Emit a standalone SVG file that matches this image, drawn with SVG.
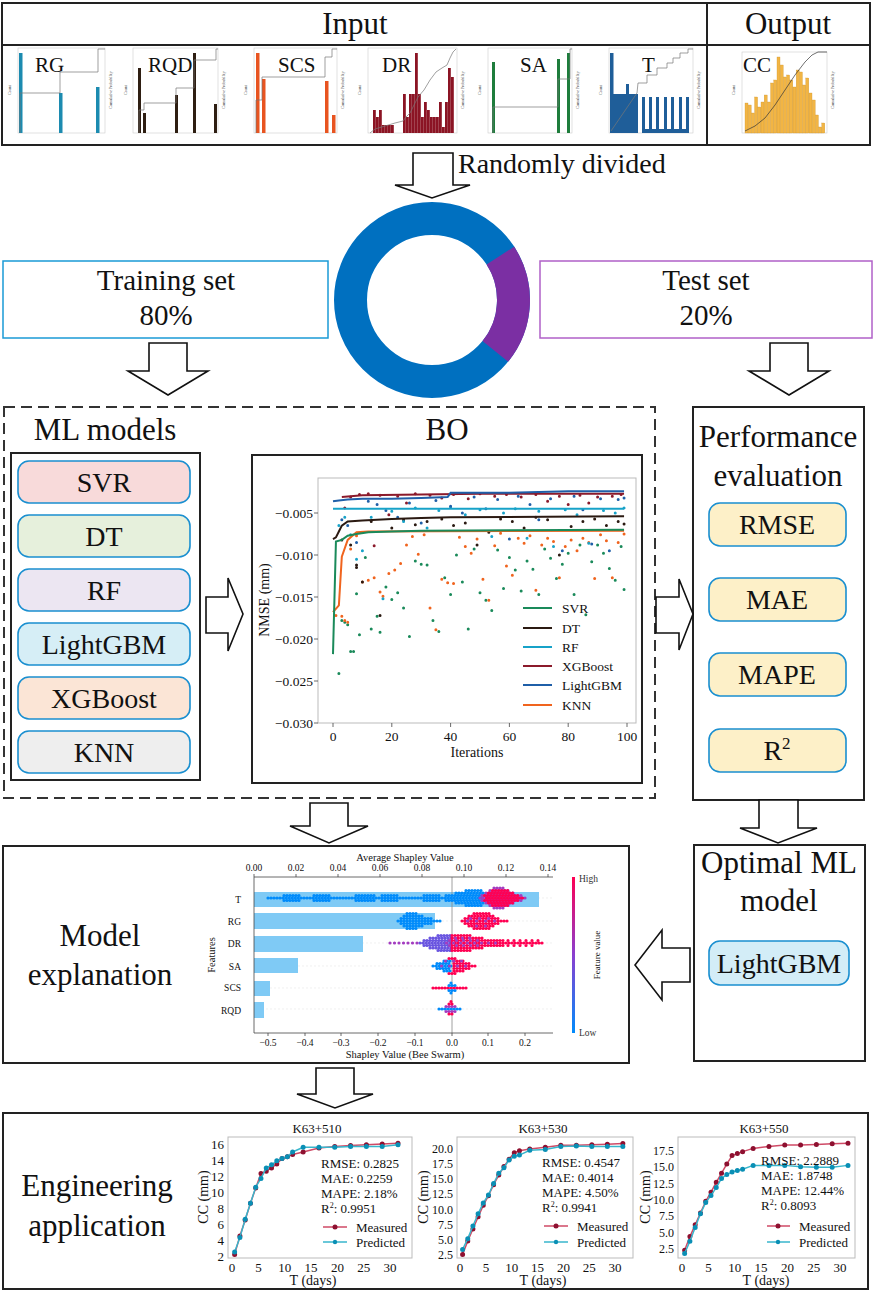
<svg xmlns="http://www.w3.org/2000/svg" width="886" height="1291" viewBox="0 0 886 1291" font-family="'Liberation Serif', serif">
<defs>
<style>
text{font-family:'Liberation Serif',serif;fill:#111}
.big{font-size:31px}
.mod{font-size:28px}
.lab{font-size:21px}
.box{fill:none;stroke:#222;stroke-width:2}
.arr{fill:#fff;stroke:#111;stroke-width:1.6;stroke-linejoin:miter}
.pill{stroke:#1a8fd0;stroke-width:1.6}
.frame{fill:none;stroke:#bbb;stroke-width:1}
.tk{font-size:13.5px}
.ns{vector-effect:non-scaling-stroke;fill:none}
.dots{vector-effect:non-scaling-stroke;fill:none;stroke-linecap:round;stroke-width:3}
.mk{vector-effect:non-scaling-stroke;fill:none;stroke-linecap:round;stroke-width:5}
.mini{fill:none;stroke:#ccc;stroke-width:0.6}
.cum{fill:none;stroke:#777;stroke-width:0.7}
.tiny{font-size:4px;fill:#333}
.shap{font-size:9.5px;fill:#333}
.et{font-size:13px}
.et2{font-size:12px}
.ax{stroke:#444;stroke-width:0.8}
.sw{fill:none;stroke-width:3.2;stroke-linecap:round;stroke-dasharray:0 3}
.b{stroke:#008bfb}.r{stroke:#ff0052}.p{stroke:#a33cc0}.v{stroke:#6a55e0}
</style>
<linearGradient id="fv" x1="0" y1="0" x2="0" y2="1">
<stop offset="0" stop-color="#ff0052"/><stop offset="0.5" stop-color="#8a3fd0"/><stop offset="1" stop-color="#008bfb"/>
</linearGradient>
</defs>
<rect width="886" height="1291" fill="#fff"/>

<g id="input-output">
<rect x="2" y="3" width="868" height="142" class="box"/>
<line x1="2" y1="45" x2="870" y2="45" stroke="#222" stroke-width="2"/>
<line x1="707" y1="3" x2="707" y2="145" stroke="#222" stroke-width="2"/>
<text x="355" y="34" class="big" text-anchor="middle">Input</text>
<text x="788" y="34" class="big" text-anchor="middle">Output</text>

<g id="hist-RG">
<rect x="18" y="48" width="87" height="85" class="mini"/>
<rect x="19" y="53" width="3.5" height="80" fill="#1c8bb0"/>
<rect x="59" y="93" width="3.5" height="40" fill="#1c8bb0"/>
<rect x="96" y="87" width="3.5" height="46" fill="#1c8bb0"/>
<polyline class="cum" points="20,133 20,93 60,93 60,72 98,72 98,49 105,49"/>
<text x="35" y="72" class="lab">RG</text>
<text class="tiny" transform="translate(11,90) rotate(-90)" text-anchor="middle">Count</text>
<text class="tiny" transform="translate(112,90) rotate(-90)" text-anchor="middle">Cumulative Probability</text>
</g>
<g id="hist-RQD">
<rect x="133" y="48" width="85" height="85" class="mini"/>
<g fill="#2e1e12">
<rect x="138" y="68" width="3" height="65"/><rect x="143" y="113" width="3" height="20"/><rect x="175" y="95" width="3" height="38"/><rect x="193" y="53" width="3" height="80"/><rect x="214" y="104" width="3" height="29"/>
</g>
<polyline class="cum" points="139,133 139,110 144,110 144,103 176,103 176,88 194,88 194,60 216,60 216,49 218,49"/>
<text x="148" y="72" class="lab">RQD</text>
<text class="tiny" transform="translate(127,90) rotate(-90)" text-anchor="middle">Count</text>
<text class="tiny" transform="translate(225,90) rotate(-90)" text-anchor="middle">Cumulative Probability</text>
</g>
<g id="hist-SCS">
<rect x="254" y="48" width="83" height="85" class="mini"/>
<g fill="#e85420">
<rect x="256" y="53" width="3.5" height="80"/><rect x="262" y="79" width="3.5" height="54"/><rect x="325" y="81" width="3.5" height="52"/><rect x="332" y="115" width="3.5" height="18"/>
</g>
<polyline class="cum" points="256,133 256,100 262,100 262,77 325,77 325,57 332,57 332,49 337,49"/>
<text x="278" y="72" class="lab">SCS</text>
<text class="tiny" transform="translate(247,90) rotate(-90)" text-anchor="middle">Count</text>
<text class="tiny" transform="translate(344,90) rotate(-90)" text-anchor="middle">Cumulative Probability</text>
</g>
<g id="hist-DR">
<rect x="368" y="48" width="89" height="85" class="mini"/>
<g fill="#8b1424">
<rect x="373" y="110" width="2.8" height="23"/><rect x="376" y="117" width="2.8" height="16"/><rect x="379" y="110" width="2.8" height="23"/><rect x="382" y="125" width="2.8" height="8"/><rect x="385" y="125" width="2.8" height="8"/><rect x="388" y="125" width="2.8" height="8"/><rect x="391" y="125" width="2.8" height="8"/><rect x="403" y="94" width="2.8" height="39"/><rect x="406" y="117" width="2.8" height="16"/><rect x="409" y="94" width="2.8" height="39"/><rect x="412" y="94" width="2.8" height="39"/><rect x="415" y="53" width="2.8" height="80"/><rect x="418" y="94" width="2.8" height="39"/><rect x="421" y="117" width="2.8" height="16"/><rect x="424" y="102" width="2.8" height="31"/><rect x="427" y="110" width="2.8" height="23"/><rect x="430" y="117" width="2.8" height="16"/><rect x="433" y="117" width="2.8" height="16"/><rect x="436" y="117" width="2.8" height="16"/><rect x="439" y="102" width="2.8" height="31"/><rect x="442" y="127" width="2.8" height="6"/><rect x="445" y="102" width="2.8" height="31"/><rect x="448" y="68" width="2.8" height="65"/><rect x="451" y="77" width="2.8" height="56"/>
</g>
<polyline class="cum" points="370,133 375,129 385,126 395,123 403,121 406,117 410,113 414,105 418,97 424,90 430,80 436,72 442,68 447,65 450,58 453,52 456,49"/>
<text x="382" y="72" class="lab">DR</text>
<text class="tiny" transform="translate(361,90) rotate(-90)" text-anchor="middle">Count</text>
<text class="tiny" transform="translate(464,90) rotate(-90)" text-anchor="middle">Cumulative Probability</text>
</g>
<g id="hist-SA">
<rect x="488" y="48" width="84" height="85" class="mini"/>
<g fill="#1e7d3c">
<rect x="492" y="62" width="3" height="71"/><rect x="557" y="59" width="3" height="74"/><rect x="567" y="53" width="3" height="80"/>
</g>
<polyline class="cum" points="493,133 493,107 558,107 558,79 570,79 570,49 572,49"/>
<text x="520" y="72" class="lab">SA</text>
<text class="tiny" transform="translate(481,90) rotate(-90)" text-anchor="middle">Count</text>
<text class="tiny" transform="translate(579,90) rotate(-90)" text-anchor="middle">Cumulative Probability</text>
</g>
<g id="hist-T">
<rect x="609" y="48" width="84" height="85" class="mini"/>
<g fill="#1f5e99">
<rect x="610" y="53" width="3.5" height="80"/><rect x="613" y="94" width="25" height="39"/><rect x="626" y="84" width="3" height="10"/>
<rect x="642" y="97" width="3" height="36"/><rect x="649" y="97" width="3" height="36"/><rect x="656" y="97" width="3" height="36"/><rect x="664" y="97" width="3" height="36"/><rect x="671" y="97" width="3" height="36"/><rect x="679" y="97" width="3" height="36"/><rect x="686" y="97" width="3" height="36"/>
<rect x="642" y="129" width="47" height="4"/>
</g>
<polyline class="cum" points="611,131 637,93 638,83 647,83 647,75 657,75 657,68 667,68 667,63 673,63 673,58 680,58 680,53 688,53 688,49 693,49"/>
<text x="642" y="72" class="lab">T</text>
<text class="tiny" transform="translate(602,90) rotate(-90)" text-anchor="middle">Count</text>
<text class="tiny" transform="translate(700,90) rotate(-90)" text-anchor="middle">Cumulative Probability</text>
</g>
<g id="hist-CC">
<rect x="742" y="52" width="85" height="81" class="mini"/>
<g fill="#f2b544" stroke="#c8902a" stroke-width="0.3">
<rect x="745" y="103" width="3" height="30"/><rect x="748.2" y="105" width="3" height="28"/><rect x="751.4" y="113" width="3" height="20"/><rect x="754.6" y="97" width="3" height="36"/><rect x="757.8" y="107" width="3" height="26"/><rect x="761" y="102" width="3" height="31"/><rect x="764.2" y="95" width="3" height="38"/><rect x="767.4" y="102" width="3" height="31"/><rect x="770.6" y="83" width="3" height="50"/><rect x="773.8" y="80" width="3" height="53"/><rect x="777" y="57" width="3" height="76"/><rect x="780.2" y="65" width="3" height="68"/><rect x="783.4" y="77" width="3" height="56"/><rect x="786.6" y="75" width="3" height="58"/><rect x="789.8" y="80" width="3" height="53"/><rect x="793" y="87" width="3" height="46"/><rect x="796.2" y="70" width="3" height="63"/><rect x="799.4" y="72" width="3" height="61"/><rect x="802.6" y="85" width="3" height="48"/><rect x="805.8" y="78" width="3" height="55"/><rect x="809" y="93" width="3" height="40"/><rect x="812.2" y="100" width="3" height="33"/><rect x="815.4" y="115" width="3" height="18"/><rect x="818.6" y="127" width="3" height="6"/><rect x="821.8" y="123" width="3" height="10"/>
</g>
<polyline fill="none" stroke="#333" stroke-width="0.7" points="745,131 755,126 765,118 775,105 785,90 795,75 805,62 812,55 818,52 827,52"/>
<text x="743" y="72" class="lab">CC</text>
<text class="tiny" transform="translate(735,90) rotate(-90)" text-anchor="middle">Count</text>
<text class="tiny" transform="translate(834,90) rotate(-90)" text-anchor="middle">Cumulative Probability</text>
</g>
</g>

<g id="split">
<circle cx="432" cy="300" r="81.5" fill="none" stroke="#0070c0" stroke-width="33"/>
<path d="M500.35 255.62 A81.5 81.5 0 0 1 495.34 351.29" fill="none" stroke="#7b2fa3" stroke-width="33"/>
</g>
<g id="training-set">
<rect x="3" y="261" width="325" height="77" fill="#fff" stroke="#1a9ad6" stroke-width="1.5"/>
<text x="166" y="290" font-size="29" text-anchor="middle">Training set</text>
<text x="166" y="325" font-size="29" text-anchor="middle">80%</text>
</g>
<g id="test-set">
<rect x="540" y="261" width="332" height="77" fill="#fff" stroke="#b060c8" stroke-width="1.5"/>
<text x="706" y="290" font-size="29" text-anchor="middle">Test set</text>
<text x="706" y="325" font-size="29" text-anchor="middle">20%</text>
</g>

<rect id="training-frame" x="4" y="407" width="651" height="391" fill="none" stroke="#333" stroke-width="2" stroke-dasharray="11 6"/>

<g id="ml-models">
<text x="105" y="440" class="big" text-anchor="middle">ML models</text>
<rect x="11" y="453" width="189" height="327" class="box"/>
<g id="m-svr"><rect x="18" y="461" width="172" height="42" rx="11" fill="#f8dada" class="pill"/><text x="104" y="492" class="mod" text-anchor="middle">SVR</text></g>
<g id="m-dt"><rect x="18" y="515" width="172" height="42" rx="11" fill="#e6f0dc" class="pill"/><text x="104" y="546" class="mod" text-anchor="middle">DT</text></g>
<g id="m-rf"><rect x="18" y="569" width="172" height="42" rx="11" fill="#ece6f2" class="pill"/><text x="104" y="600" class="mod" text-anchor="middle">RF</text></g>
<g id="m-lgbm"><rect x="18" y="623" width="172" height="42" rx="11" fill="#d6eef6" class="pill"/><text x="104" y="654" class="mod" text-anchor="middle">LightGBM</text></g>
<g id="m-xgb"><rect x="18" y="677" width="172" height="42" rx="11" fill="#fbe5d6" class="pill"/><text x="104" y="708" class="mod" text-anchor="middle">XGBoost</text></g>
<g id="m-knn"><rect x="18" y="731" width="172" height="42" rx="11" fill="#eeeeee" class="pill"/><text x="104" y="762" class="mod" text-anchor="middle">KNN</text></g>
</g>

<g id="bo">
<text x="447" y="440" class="big" text-anchor="middle">BO</text>
<rect x="252" y="455" width="390" height="328" class="box"/>
<rect x="318" y="478" width="318" height="245" class="frame"/>
<g class="ax"><line x1="314" y1="513" x2="318" y2="513"/><line x1="314" y1="555" x2="318" y2="555"/><line x1="314" y1="597" x2="318" y2="597"/><line x1="314" y1="639" x2="318" y2="639"/><line x1="314" y1="681" x2="318" y2="681"/><line x1="314" y1="723" x2="318" y2="723"/>
<line x1="333" y1="723" x2="333" y2="727"/><line x1="391.8" y1="723" x2="391.8" y2="727"/><line x1="450.6" y1="723" x2="450.6" y2="727"/><line x1="509.4" y1="723" x2="509.4" y2="727"/><line x1="568.2" y1="723" x2="568.2" y2="727"/><line x1="627" y1="723" x2="627" y2="727"/></g>
<g class="tk" text-anchor="end">
<text x="313" y="518">−0.005</text><text x="313" y="560">−0.010</text><text x="313" y="602">−0.015</text><text x="313" y="644">−0.020</text><text x="313" y="686">−0.025</text><text x="313" y="728">−0.030</text>
</g>
<g class="tk" text-anchor="middle">
<text x="333" y="741">0</text><text x="391.8" y="741">20</text><text x="450.6" y="741">40</text><text x="509.4" y="741">60</text><text x="568.2" y="741">80</text><text x="627" y="741">100</text>
<text x="477" y="757" font-size="14">Iterations</text>
<text transform="translate(269,600) rotate(-90)" font-size="14">NMSE (mm)</text>
</g>
<g transform="matrix(2.94 0 0 0.84 333 471)">
<path class="dots" stroke="#1a8a5a" d="M2 241h0M3 178h0M4 180h0M5 183h0M6 215h0M7 215h0M8 146h0M9 195h0M11 103h0M13 188h0M15 173h0M16 192h0M18 138h0M20 153h0M22 145h0M24 163h0M26 197h0M28 107h0M30 111h0M32 112h0M34 178h0M36 191h0M38 127h0M40 147h0M42 100h0M44 132h0M46 188h0M48 93h0M50 145h0M52 154h0M54 166h0M56 94h0M58 140h0M60 103h0M62 118h0M64 143h0M66 107h0M68 117h0M70 147h0M72 93h0M74 104h0M76 128h0M78 111h0M80 98h0M82 147h0M84 88h0M86 171h0M88 108h0M90 88h0M92 98h0M94 116h0M96 130h0M98 90h0M99 141h0"/>
<path class="dots" stroke="#f0641e" d="M1 172h0M3 173h0M4 178h0M5 180h0M6 93h0M8 77h0M10 132h0M12 130h0M14 127h0M16 144h0M17 149h0M19 122h0M21 118h0M23 110h0M25 88h0M27 78h0M29 99h0M31 76h0M33 163h0M35 189h0M37 129h0M39 133h0M41 134h0M43 79h0M45 90h0M47 98h0M49 81h0M51 129h0M53 154h0M55 89h0M57 74h0M59 113h0M61 124h0M63 80h0M65 86h0M67 77h0M69 142h0M71 88h0M73 80h0M75 84h0M77 127h0M79 90h0M81 82h0M83 95h0M85 80h0M87 85h0M89 128h0M91 76h0M93 83h0M95 127h0M97 85h0M99 75h0"/>
<path class="dots" stroke="#2b1a12" d="M3 82h0M6 88h0M8 112h0M8 115h0M10 132h0M13 60h0M16 172h0M20 68h0M24 58h0M28 64h0M32 60h0M37 57h0M41 65h0M45 62h0M49 88h0M53 73h0M57 57h0M61 60h0M65 68h0M69 55h0M73 58h0M77 100h0M81 66h0M85 60h0M89 57h0M93 65h0M97 60h0M99 63h0"/>
<path class="dots" stroke="#17a2c8" d="M2 65h0M4 55h0M6 76h0M8 105h0M10 95h0M13 55h0M17 152h0M20 48h0M24 60h0M28 44h0M32 68h0M36 47h0M40 43h0M45 52h0M50 46h0M54 78h0M58 50h0M62 45h0M66 80h0M70 48h0M75 90h0M79 46h0M83 52h0M87 86h0M92 47h0M96 50h0M99 44h0"/>
<path class="dots" stroke="#8b1a2b" d="M4 44h0M6 31h0M9 28h0M12 27h0M14 89h0M16 29h0M19 52h0M22 30h0M25 38h0M28 27h0M33 29h0M37 32h0M41 28h0M46 33h0M50 27h0M55 30h0M59 28h0M64 31h0M69 28h0M73 36h0M77 30h0M80 40h0M84 29h0M87 38h0M90 31h0M95 30h0M98 28h0"/>
<path class="dots" stroke="#1f5fa8" d="M3 58h0M5 65h0M8 85h0M12 36h0M15 40h0M18 47h0M22 55h0M26 38h0M30 62h0M35 35h0M40 42h0M44 50h0M48 31h0M52 45h0M56 34h0M60 81h0M63 30h0M67 40h0M70 58h0M74 33h0M78 95h0M82 30h0M85 46h0M88 87h0M91 33h0M94 95h0M97 34h0M99 32h0"/>
<polyline class="ns" stroke="#17a2c8" stroke-width="2" points="0,45 99,45"/>
<polyline class="ns" stroke="#8b1a2b" stroke-width="2" points="3,31 10,29 30,28 50,27 99,27"/>
<polyline class="ns" stroke="#1f5fa8" stroke-width="2" points="0,36 2,35 5,34 10,33 20,33 30,32 39,31 40,26 60,26 70,25 80,24 99,24"/>
<polyline class="ns" stroke="#2b1a12" stroke-width="2" points="0,81 1,79 2,72 3,65 5,60 10,59 20,57 30,56 40,55 99,54"/>
<polyline class="ns" stroke="#f0641e" stroke-width="2" points="0,168 2,160 3,102 5,82 7,76 8,73 12,72 99,71"/>
<polyline class="ns" stroke="#1a8a5a" stroke-width="2" points="0,218 1,84 3,82 5,77 8,75 12,73 20,72 30,71 99,70"/>
</g>
<g stroke-width="2">
<line x1="523" y1="608" x2="552" y2="608" stroke="#1a8a5a"/>
<line x1="523" y1="628" x2="552" y2="628" stroke="#2b1a12"/>
<line x1="523" y1="647" x2="552" y2="647" stroke="#17a2c8"/>
<line x1="523" y1="666" x2="552" y2="666" stroke="#8b1a2b"/>
<line x1="523" y1="685" x2="552" y2="685" stroke="#1f5fa8"/>
<line x1="523" y1="705" x2="552" y2="705" stroke="#f0641e"/>
</g>
<g class="tk">
<text x="562" y="613">SVR</text><text x="562" y="633">DT</text><text x="562" y="652">RF</text><text x="562" y="671">XGBoost</text><text x="562" y="690">LightGBM</text><text x="562" y="710">KNN</text>
</g>
</g>

<g id="performance">
<rect x="693" y="407" width="171" height="393" class="box"/>
<text x="778" y="447" class="big" text-anchor="middle">Performance</text>
<text x="778" y="486" class="big" text-anchor="middle">evaluation</text>
<g id="p-rmse"><rect x="709" y="503" width="137" height="43" rx="11" fill="#fdf0c8" class="pill"/><text x="777" y="534" class="mod" text-anchor="middle">RMSE</text></g>
<g id="p-mae"><rect x="709" y="578" width="137" height="43" rx="11" fill="#fdf0c8" class="pill"/><text x="777" y="609" class="mod" text-anchor="middle">MAE</text></g>
<g id="p-mape"><rect x="709" y="653" width="137" height="43" rx="11" fill="#fdf0c8" class="pill"/><text x="777" y="684" class="mod" text-anchor="middle">MAPE</text></g>
<g id="p-r2"><rect x="709" y="729" width="137" height="43" rx="11" fill="#fdf0c8" class="pill"/><text x="777" y="760" class="mod" text-anchor="middle">R<tspan dy="-11" font-size="17">2</tspan></text></g>
</g>

<g id="optimal-model">
<rect x="694" y="845" width="171" height="216" class="box"/>
<text x="779" y="873" class="big" text-anchor="middle">Optimal ML</text>
<text x="779" y="911" class="big" text-anchor="middle">model</text>
<rect x="709" y="941" width="140" height="44" rx="11" fill="#d3edf7" class="pill"/>
<text x="779" y="973" class="mod" text-anchor="middle">LightGBM</text>
</g>

<g id="model-explanation">
<rect x="3" y="846" width="626" height="217" class="box"/>
<text x="100" y="946" class="big" text-anchor="middle">Model</text>
<text x="100" y="985" class="big" text-anchor="middle">explanation</text>
<g id="shap">
<g stroke="#e6e6e6" stroke-width="0.6" stroke-dasharray="2 2"><line x1="254" y1="898" x2="553" y2="898"/><line x1="254" y1="921" x2="553" y2="921"/><line x1="254" y1="943" x2="553" y2="943"/><line x1="254" y1="966" x2="553" y2="966"/><line x1="254" y1="988" x2="553" y2="988"/><line x1="254" y1="1009" x2="553" y2="1009"/></g>
<g fill="#7fcaf5">
<rect x="254" y="892" width="285" height="15"/><rect x="254" y="913" width="181" height="16"/><rect x="254" y="936" width="109" height="16"/><rect x="254" y="958" width="44" height="15"/><rect x="254" y="981" width="16" height="15"/><rect x="254" y="1002" width="10" height="16"/>
</g>
<line x1="452" y1="877" x2="452" y2="1033" stroke="#888" stroke-width="0.8"/>
<g id="swarm-T">
<path class="sw b" d="M268 898H484M284 895.5H302M284 900.5H302M314 895.5H332M314 900.5H332M356 895.5H376M356 900.5H376M382 895.5H398M382 900.5H398M424 895.5H442M424 900.5H442M446 895.5H484M446 900.5H484M456 893H486M456 903H486M466 890.5H484M466 905.5H484"/>
<path class="sw p" d="M480 898H526M482 895.5H522M482 900.5H522M486 893H516M486 903H516M490 890.5H510M490 905.5H510M494 888H506M494 908H506"/>
<path class="sw r" d="M486.5 898H524M484.5 895.5H520M484.5 900.5H520M488.5 893H514M488.5 903H514M492.5 890.5H508M492.5 905.5H508"/>
</g>
<g id="swarm-RG">
<path class="sw b" d="M398 921H441M401 918.5H434M401 923.5H434M404 916H424M404 926H424M407 913.5H417M407 928.5H417"/>
<path class="sw r" d="M462 921H508M465 918.5H501M465 923.5H501M469 916H496M469 926H496M474 913.5H490M474 928.5H490"/>
<path class="sw p" style="stroke-dasharray:0 9" d="M467.5 921H500M470.5 918.5H496M476.5 926H492"/>
</g>
<g id="swarm-DR">
<path class="sw p" style="stroke-dasharray:0 4.5" d="M390 943H420"/>
<path class="sw v" d="M420 943H452M424 940.5H452M424 945.5H452M430 938H452M430 948H452M438 935.5H452M438 950.5H452"/>
<path class="sw r" d="M452 943H543M452 940.5H505M452 945.5H505M452 938H484M452 948H484M452 935.5H472M452 950.5H472"/>
<path class="sw p" style="stroke-dasharray:0 7" d="M446.5 943H500M449.5 940.5H480M449.5 945.5H480M455.5 938H470"/>
<path class="sw r" style="stroke-dasharray:0 6" d="M508 940.5H540M508 945.5H536"/>
</g>
<g id="swarm-SA">
<path class="sw b" d="M433 966H452M437 963.5H452M437 968.5H452M444 961H452M444 971H452"/>
<path class="sw r" d="M454 966H478M454 963.5H472M454 968.5H472M454 961H466M454 971H466M449 958.5H457M449 973.5H457"/>
<path class="sw p" style="stroke-dasharray:0 8" d="M441.5 966H470M445.5 961H466"/>
</g>
<g id="swarm-SCS">
<path class="sw r" d="M433 988H467"/>
<path class="sw b" d="M449 985.5H456M449 990.5H456M451 983H454M451 993H454"/>
</g>
<g id="swarm-RQD">
<path class="sw b" d="M439 1009H462"/>
<path class="sw p" d="M446 1006.5H458M446 1011.5H458"/>
<path class="sw r" d="M449 1004H455M449 1014H455M451 1001.5H453"/>
</g>
<g class="ax"><line x1="254" y1="877" x2="553" y2="877"/><line x1="254" y1="1033" x2="553" y2="1033"/><line x1="254" y1="877" x2="254" y2="1033"/>
<line x1="254" y1="874" x2="254" y2="877"/><line x1="296" y1="874" x2="296" y2="877"/><line x1="338" y1="874" x2="338" y2="877"/><line x1="380" y1="874" x2="380" y2="877"/><line x1="422" y1="874" x2="422" y2="877"/><line x1="464" y1="874" x2="464" y2="877"/><line x1="506" y1="874" x2="506" y2="877"/><line x1="548" y1="874" x2="548" y2="877"/>
<line x1="268" y1="1033" x2="268" y2="1036"/><line x1="305" y1="1033" x2="305" y2="1036"/><line x1="341" y1="1033" x2="341" y2="1036"/><line x1="378" y1="1033" x2="378" y2="1036"/><line x1="415" y1="1033" x2="415" y2="1036"/><line x1="452" y1="1033" x2="452" y2="1036"/><line x1="488" y1="1033" x2="488" y2="1036"/><line x1="525" y1="1033" x2="525" y2="1036"/></g>
<g class="shap" text-anchor="middle">
<text x="254" y="871">0.00</text><text x="296" y="871">0.02</text><text x="338" y="871">0.04</text><text x="380" y="871">0.06</text><text x="422" y="871">0.08</text><text x="464" y="871">0.10</text><text x="506" y="871">0.12</text><text x="548" y="871">0.14</text>
<text x="268" y="1046">−0.5</text><text x="305" y="1046">−0.4</text><text x="341" y="1046">−0.3</text><text x="378" y="1046">−0.2</text><text x="415" y="1046">−0.1</text><text x="452" y="1046">0.0</text><text x="488" y="1046">0.1</text><text x="525" y="1046">0.2</text>
<text x="405" y="861" font-size="10.5">Average Shapley Value</text>
<text x="405" y="1058" font-size="10.5">Shapley Value (Bee Swarm)</text>
<text transform="translate(215,955) rotate(-90)" font-size="10.5">Features</text>
<text transform="translate(600,955) rotate(-90)" font-size="9">Feature value</text>
</g>
<g class="shap" text-anchor="end">
<text x="241" y="903">T</text><text x="241" y="925">RG</text><text x="241" y="947">DR</text><text x="241" y="970">SA</text><text x="241" y="991">SCS</text><text x="241" y="1014">RQD</text>
</g>
<rect x="572" y="877" width="3" height="156" fill="url(#fv)"/>
<text x="579" y="882" class="shap" font-size="8">High</text>
<text x="579" y="1036" class="shap" font-size="8">Low</text>
</g>
</g>

<g id="engineering">
<rect x="3" y="1113" width="865" height="176" class="box"/>
<text x="97" y="1196" class="big" text-anchor="middle">Engineering</text>
<text x="97" y="1236" class="big" text-anchor="middle">application</text>

<g id="chart-k510">
<text x="317" y="1133" class="et" text-anchor="middle">K63+510</text>
<rect x="228" y="1137" width="184" height="121" class="frame"/>
<g class="et" text-anchor="end"><text x="224" y="1148.5">16</text><text x="224" y="1164.5">14</text><text x="224" y="1180.5">12</text><text x="224" y="1196.5">10</text><text x="224" y="1212.5">8</text><text x="224" y="1228.5">6</text><text x="224" y="1244.5">4</text><text x="224" y="1260.5">2</text></g>
<g class="et" text-anchor="middle"><text x="232" y="1272">0</text><text x="258.4" y="1272">5</text><text x="284.7" y="1272">10</text><text x="311" y="1272">15</text><text x="337.4" y="1272">20</text><text x="363.8" y="1272">25</text><text x="390.1" y="1272">30</text>
<text x="313" y="1285" font-size="14">T (days)</text><text transform="translate(208,1197) rotate(-90)" font-size="14">CC (mm)</text></g>
<g transform="matrix(5.27 0 0 -8 232 1272)">
<polyline class="ns" stroke="#cf4a66" stroke-width="1.5" points="0.5,2.2 1.5,4.5 2.5,6.5 3.5,8.6 4.5,10.5 5.5,12.3 6.5,12.6 7.5,13.0 8.5,13.5 9.5,14.2 10.5,14.4 11.5,14.7 13.5,15.0 16.5,15.5 19.5,15.7 22.5,15.8 25.5,15.9 28.5,16.0 31.5,16.1"/>
<path class="mk" stroke="#8e1030" d="M0.5 2.2h0M1.5 4.5h0M2.5 6.5h0M3.5 8.6h0M4.5 10.5h0M5.5 12.3h0M6.5 12.6h0M7.5 13.0h0M8.5 13.5h0M9.5 14.2h0M10.5 14.4h0M11.5 14.7h0M13.5 15.0h0M16.5 15.5h0M19.5 15.7h0M22.5 15.8h0M25.5 15.9h0M28.5 16.0h0M31.5 16.1h0"/>
<polyline class="ns" stroke="#38b6cc" stroke-width="1.5" points="0.5,2.5 1.5,4.3 2.5,6.6 3.5,8.6 4.5,10.6 5.5,11.7 6.5,13.0 7.5,13.4 8.5,13.9 9.5,14.2 10.5,14.4 11.5,15.0 13.5,15.6 16.5,15.6 19.5,15.6 22.5,15.7 25.5,15.7 28.5,15.7 31.5,15.9"/>
<path class="mk" stroke="#0a8fb5" stroke-width="4" d="M0.5 2.5h0M1.5 4.3h0M2.5 6.6h0M3.5 8.6h0M4.5 10.6h0M5.5 11.7h0M6.5 13.0h0M7.5 13.4h0M8.5 13.9h0M9.5 14.2h0M10.5 14.4h0M11.5 15.0h0M13.5 15.6h0M16.5 15.6h0M19.5 15.6h0M22.5 15.7h0M25.5 15.7h0M28.5 15.7h0M31.5 15.9h0"/>
</g>
<g class="et"><text x="321" y="1168">RMSE: 0.2825</text><text x="321" y="1183">MAE: 0.2259</text><text x="321" y="1198">MAPE: 2.18%</text><text x="321" y="1213">R<tspan dy="-5" font-size="8">2</tspan><tspan dy="5">: 0.9951</tspan></text><text x="356" y="1232">Measured</text><text x="356" y="1247">Predicted</text></g>
<line x1="323" y1="1227" x2="347" y2="1227" stroke="#cf4a66" stroke-width="1.5"/><circle cx="335" cy="1227" r="2.5" fill="#8e1030"/>
<line x1="323" y1="1242" x2="347" y2="1242" stroke="#38b6cc" stroke-width="1.5"/><circle cx="335" cy="1242" r="2.2" fill="#0a8fb5"/>
</g>

<g id="chart-k530">
<text x="543" y="1133" class="et" text-anchor="middle">K63+530</text>
<rect x="457" y="1137" width="176" height="121" class="frame"/>
<g class="et2" text-anchor="end"><text x="453" y="1153">20.0</text><text x="453" y="1168.1">17.5</text><text x="453" y="1183.3">15.0</text><text x="453" y="1198.4">12.5</text><text x="453" y="1213.6">10.0</text><text x="453" y="1228.7">7.5</text><text x="453" y="1243.9">5.0</text><text x="453" y="1259">2.5</text></g>
<g class="et" text-anchor="middle"><text x="460" y="1272">0</text><text x="485.9" y="1272">5</text><text x="511.7" y="1272">10</text><text x="537.6" y="1272">15</text><text x="563.4" y="1272">20</text><text x="589.3" y="1272">25</text><text x="615.1" y="1272">30</text>
<text x="543" y="1285" font-size="14">T (days)</text><text transform="translate(428,1197) rotate(-90)" font-size="14">CC (mm)</text></g>
<g transform="matrix(5.17 0 0 -6.057 460 1270.14)">
<polyline class="ns" stroke="#cf4a66" stroke-width="1.5" points="0.5,2.6 1.5,4.8 2.5,6.8 3.5,8.8 4.5,10.7 5.5,12.3 6.5,14.1 7.5,15.7 8.5,17.1 9.5,18.3 10.5,19.4 11.5,19.7 13.5,20.0 16.5,20.3 19.5,20.6 22.5,20.6 25.5,20.7 28.5,20.8 31.5,20.9"/>
<path class="mk" stroke="#8e1030" d="M0.5 2.6h0M1.5 4.8h0M2.5 6.8h0M3.5 8.8h0M4.5 10.7h0M5.5 12.3h0M6.5 14.1h0M7.5 15.7h0M8.5 17.1h0M9.5 18.3h0M10.5 19.4h0M11.5 19.7h0M13.5 20.0h0M16.5 20.3h0M19.5 20.6h0M22.5 20.6h0M25.5 20.7h0M28.5 20.8h0M31.5 20.9h0"/>
<polyline class="ns" stroke="#38b6cc" stroke-width="1.5" points="0.5,3.4 1.5,5.2 2.5,7.3 3.5,9.3 4.5,11.1 5.5,12.4 6.5,14.3 7.5,16.0 8.5,16.9 9.5,18.2 10.5,18.8 11.5,19.0 13.5,19.8 16.5,19.9 19.5,20.4 22.5,20.5 25.5,20.4 28.5,20.4 31.5,20.4"/>
<path class="mk" stroke="#0a8fb5" stroke-width="4" d="M0.5 3.4h0M1.5 5.2h0M2.5 7.3h0M3.5 9.3h0M4.5 11.1h0M5.5 12.4h0M6.5 14.3h0M7.5 16.0h0M8.5 16.9h0M9.5 18.2h0M10.5 18.8h0M11.5 19.0h0M13.5 19.8h0M16.5 19.9h0M19.5 20.4h0M22.5 20.5h0M25.5 20.4h0M28.5 20.4h0M31.5 20.4h0"/>
</g>
<g class="et"><text x="542" y="1167">RMSE: 0.4547</text><text x="542" y="1182">MAE: 0.4014</text><text x="542" y="1197">MAPE: 4.50%</text><text x="542" y="1212">R<tspan dy="-5" font-size="8">2</tspan><tspan dy="5">: 0.9941</tspan></text><text x="577" y="1231">Measured</text><text x="577" y="1247">Predicted</text></g>
<line x1="544" y1="1226" x2="568" y2="1226" stroke="#cf4a66" stroke-width="1.5"/><circle cx="556" cy="1226" r="2.5" fill="#8e1030"/>
<line x1="544" y1="1242" x2="568" y2="1242" stroke="#38b6cc" stroke-width="1.5"/><circle cx="556" cy="1242" r="2.2" fill="#0a8fb5"/>
</g>

<g id="chart-k550">
<text x="764" y="1133" class="et" text-anchor="middle">K63+550</text>
<rect x="678" y="1137" width="177" height="121" class="frame"/>
<g class="et2" text-anchor="end"><text x="674" y="1155">17.5</text><text x="674" y="1171.3">15.0</text><text x="674" y="1187.7">12.5</text><text x="674" y="1204">10.0</text><text x="674" y="1220.3">7.5</text><text x="674" y="1236.7">5.0</text><text x="674" y="1253">2.5</text></g>
<g class="et" text-anchor="middle"><text x="682" y="1272">0</text><text x="708.4" y="1272">5</text><text x="734.7" y="1272">10</text><text x="761.1" y="1272">15</text><text x="787.4" y="1272">20</text><text x="813.8" y="1272">25</text><text x="840.1" y="1272">30</text>
<text x="766" y="1285" font-size="14">T (days)</text><text transform="translate(650,1197) rotate(-90)" font-size="14">CC (mm)</text></g>
<g transform="matrix(5.27 0 0 -6.533 682 1265.33)">
<polyline class="ns" stroke="#cf4a66" stroke-width="1.5" points="0.5,2.3 1.5,4.4 2.5,6.2 3.5,8.0 4.5,9.8 5.5,11.2 6.5,12.7 7.5,14.1 8.5,15.5 9.5,16.8 10.5,17.1 11.5,17.4 13.5,17.9 16.5,18.2 19.5,18.4 22.5,18.4 25.5,18.5 28.5,18.6 31.5,18.7"/>
<path class="mk" stroke="#8e1030" d="M0.5 2.3h0M1.5 4.4h0M2.5 6.2h0M3.5 8.0h0M4.5 9.8h0M5.5 11.2h0M6.5 12.7h0M7.5 14.1h0M8.5 15.5h0M9.5 16.8h0M10.5 17.1h0M11.5 17.4h0M13.5 17.9h0M16.5 18.2h0M19.5 18.4h0M22.5 18.4h0M25.5 18.5h0M28.5 18.6h0M31.5 18.7h0"/>
<polyline class="ns" stroke="#38b6cc" stroke-width="1.5" points="0.5,1.8 1.5,3.7 2.5,5.8 3.5,7.9 4.5,9.6 5.5,10.7 6.5,11.9 7.5,13.3 8.5,13.9 9.5,14.3 10.5,14.5 11.5,14.7 13.5,15.3 16.5,15.3 19.5,15.3 22.5,15.1 25.5,15.0 28.5,15.0 31.5,15.3"/>
<path class="mk" stroke="#0a8fb5" stroke-width="4" d="M0.5 1.8h0M1.5 3.7h0M2.5 5.8h0M3.5 7.9h0M4.5 9.6h0M5.5 10.7h0M6.5 11.9h0M7.5 13.3h0M8.5 13.9h0M9.5 14.3h0M10.5 14.5h0M11.5 14.7h0M13.5 15.3h0M16.5 15.3h0M19.5 15.3h0M22.5 15.1h0M25.5 15.0h0M28.5 15.0h0M31.5 15.3h0"/>
</g>
<g class="et"><text x="761" y="1165">RMSE: 2.2889</text><text x="761" y="1180">MAE: 1.8748</text><text x="761" y="1195">MAPE: 12.44%</text><text x="761" y="1210">R<tspan dy="-5" font-size="8">2</tspan><tspan dy="5">: 0.8093</tspan></text><text x="799" y="1231">Measured</text><text x="799" y="1247">Predicted</text></g>
<line x1="767" y1="1226" x2="790" y2="1226" stroke="#cf4a66" stroke-width="1.5"/><circle cx="778" cy="1226" r="2.5" fill="#8e1030"/>
<line x1="767" y1="1242" x2="790" y2="1242" stroke="#38b6cc" stroke-width="1.5"/><circle cx="778" cy="1242" r="2.2" fill="#0a8fb5"/>
</g>
</g>

<g id="connectors">
<polygon class="arr" points="413,153 453,153 453,185 470,185 432,198 395,185 413,185"/>
<text x="458" y="173" font-size="28">Randomly divided</text>
<polygon class="arr" points="149,343 187,343 187,371 208,371 168,395 128,371 149,371"/>
<polygon class="arr" points="770,343 808,343 808,371 829,371 789,395 749,371 770,371"/>
<polygon class="arr" points="206,597 228,597 228,578 243,614 228,651 228,633 206,633"/>
<polygon class="arr" points="656,597 679,597 679,579 693,614 679,650 679,633 656,633"/>
<polygon class="arr" points="310,803 348,803 348,826 368,826 329,843 290,826 310,826"/>
<polygon class="arr" points="759,800 798,800 798,828 817,828 778,843 740,828 759,828"/>
<polygon class="arr" points="690,948 662,948 662,930 635,965 662,1000 662,982 690,982"/>
<polygon class="arr" points="316,1068 354,1068 354,1094 373,1094 335,1108 297,1094 316,1094"/>
</g>
</svg>
